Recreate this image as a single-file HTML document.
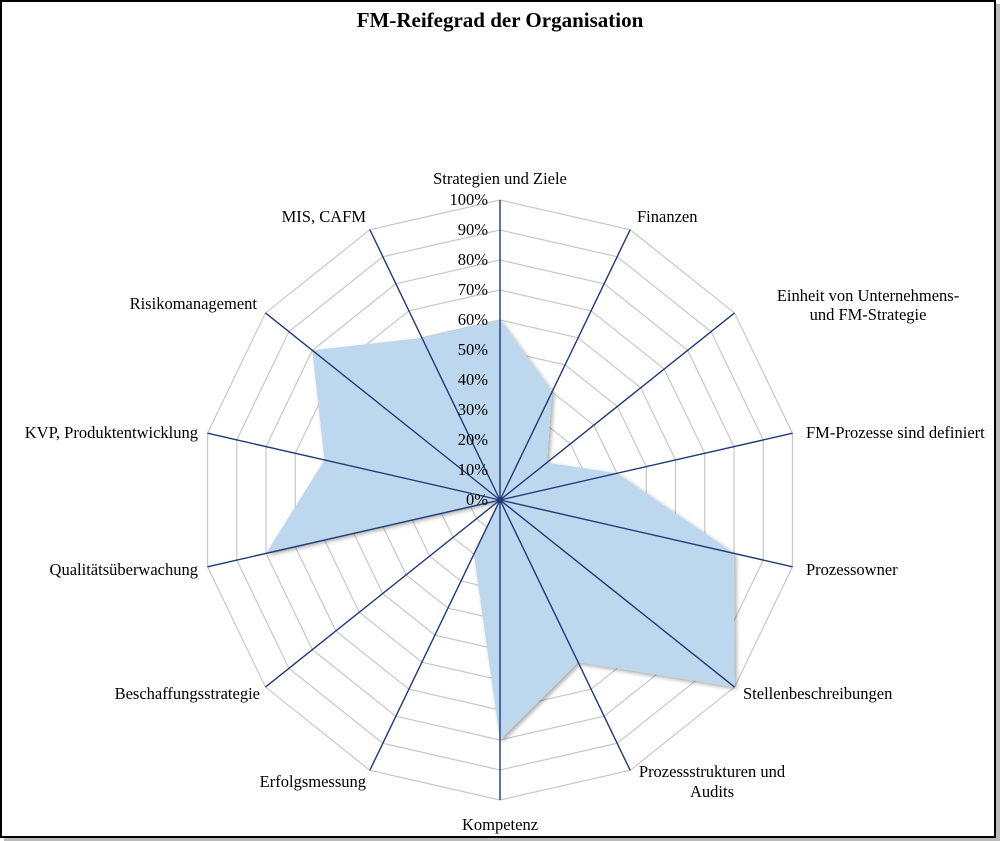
<!DOCTYPE html>
<html><head><meta charset="utf-8"><style>
html,body{margin:0;padding:0;background:#fff;}
svg{display:block;}
text{font-family:"Liberation Serif",serif;font-size:16.5px;fill:#000;}
</style></head><body>
<svg width="1000" height="841" viewBox="0 0 1000 841">
<defs><filter id="sh" x="-10%" y="-10%" width="120%" height="120%"><feDropShadow dx="2" dy="2" stdDeviation="2" flood-color="#000" flood-opacity="0.35"/></filter></defs>
<rect x="1" y="1" width="994" height="836" fill="#fff" stroke="#000" stroke-width="2"/>
<rect x="996" y="4" width="4" height="837" fill="#bbb"/><rect x="4" y="838" width="996" height="3" fill="#bbb"/>
<text x="500" y="27" text-anchor="middle" style="font-size:21px;font-weight:bold">FM-Reifegrad der Organisation</text>
<g id="grid" fill="none" stroke="#c8c8c8" stroke-width="1.2"></g>
<polygon id="poly" fill="#bdd7ee" filter="url(#sh)"/>
<g id="axes" stroke="#1f3a78" stroke-width="1.4"></g>
<circle cx="500" cy="500" r="3" fill="#1f3a78"/>
<g id="ticks" text-anchor="end" style="font-size:14.5px"></g>
<g dominant-baseline="middle">
<text x="500" y="180" text-anchor="middle">Strategien und Ziele</text>
<text x="637" y="218">Finanzen</text>
<text x="868" y="297" text-anchor="middle">Einheit von Unternehmens-</text>
<text x="868" y="316" text-anchor="middle">und FM-Strategie</text>
<text x="806" y="434">FM-Prozesse sind definiert</text>
<text x="806" y="571">Prozessowner</text>
<text x="743" y="695">Stellenbeschreibungen</text>
<text x="712" y="773" text-anchor="middle">Prozessstrukturen und</text>
<text x="712" y="793" text-anchor="middle">Audits</text>
<text x="500" y="826" text-anchor="middle">Kompetenz</text>
<text x="366" y="783" text-anchor="end">Erfolgsmessung</text>
<text x="260" y="695" text-anchor="end">Beschaffungsstrategie</text>
<text x="198" y="571" text-anchor="end">Qualitätsüberwachung</text>
<text x="198" y="434" text-anchor="end">KVP, Produktentwicklung</text>
<text x="257" y="305" text-anchor="end">Risikomanagement</text>
<text x="366" y="218" text-anchor="end">MIS, CAFM</text>
</g>
</svg>
<script>
var cx=500,cy=500,R=300,n=14,ns="http://www.w3.org/2000/svg";
function pt(i,r){var a=i*2*Math.PI/n;return [cx+r*Math.sin(a),cy-r*Math.cos(a)];}
var g=document.getElementById('grid');
for(var k=1;k<=10;k++){var p=[];for(var i=0;i<n;i++){p.push(pt(i,R*k/10).join(','));}
var e=document.createElementNS(ns,'polygon');e.setAttribute('points',p.join(' '));g.appendChild(e);}
var ax=document.getElementById('axes');
for(var i=0;i<n;i++){var q=pt(i,R);var l=document.createElementNS(ns,'line');l.setAttribute('x1',cx);l.setAttribute('y1',cy);l.setAttribute('x2',q[0]);l.setAttribute('y2',q[1]);ax.appendChild(l);}
var v=[60,40,20,40,80,100,60,80,20,0,80,60,80,60];
var pp=[];for(var i=0;i<n;i++){pp.push(pt(i,R*v[i]/100).join(','));}
document.getElementById('poly').setAttribute('points',pp.join(' '));
var t=document.getElementById('ticks');
for(var k=0;k<=10;k++){var e=document.createElementNS(ns,'text');e.setAttribute('x',488);e.setAttribute('y',cy-R*k/10+5);e.textContent=(k*10)+'%';t.appendChild(e);}
</script>
</body></html>
